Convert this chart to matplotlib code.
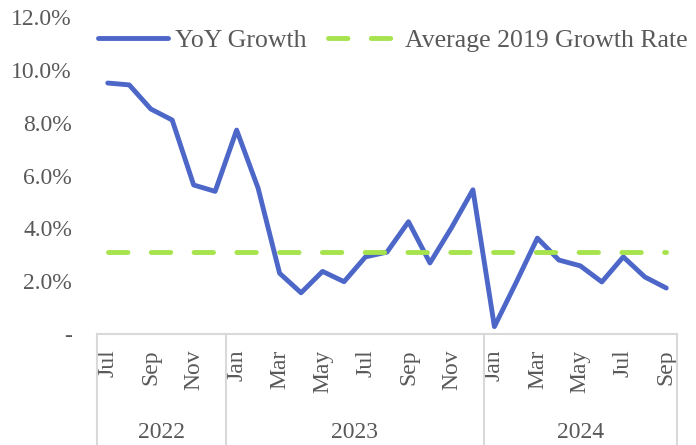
import numpy as np
import matplotlib.pyplot as plt
from matplotlib.ticker import FixedLocator, FuncFormatter

# Dados
meses = ["Jul", "Aug", "Sep", "Oct", "Nov", "Dec",
         "Jan", "Feb", "Mar", "Apr", "May", "Jun", "Jul", "Aug", "Sep", "Oct", "Nov", "Dec",
         "Jan", "Feb", "Mar", "Apr", "May", "Jun", "Jul", "Aug", "Sep"]
anos = ["2022", "2023", "2024"]
meses_por_ano = [6, 12, 9]
yoy = [9.50, 9.43, 8.52, 8.10, 5.64, 5.40,
       7.72, 5.52, 2.30, 1.56, 2.37, 1.98, 2.92, 3.10, 4.25, 2.69, 4.02, 5.46,
       0.28, 1.93, 3.63, 2.80, 2.58, 1.97, 2.92, 2.16, 1.74]
media_2019 = 3.10

cinza = "#595959"
azul = "#4D67C9"
verde = "#A6E34D"

plt.rcParams["font.family"] = ["Liberation Serif", "DejaVu Serif"]
plt.rcParams["font.size"] = 17

fig = plt.figure(figsize=(6.96, 4.45), dpi=100)
ax = fig.add_axes([97 / 696, 1 - 334 / 445, 580 / 696, 317 / 445])

x = np.arange(len(meses))
y = np.array(yoy) / 100

ax.plot(x, y, color=azul, lw=3.5, solid_capstyle="round", solid_joinstyle="round",
        label="YoY Growth")
ax.plot(x, np.full(len(x), media_2019 / 100), color=verde, lw=3.5,
        dashes=(4.0, 4.8), dash_capstyle="round", label="Average 2019 Growth Rate")

ax.set_xlim(-0.5, len(meses) - 0.5)
ax.set_ylim(0, 0.12)

# Eixo y
ax.yaxis.set_major_locator(FixedLocator(np.arange(0, 0.1201, 0.02)))
ax.yaxis.set_major_formatter(FuncFormatter(lambda v, p: "-" if abs(v) < 1e-9 else f"{v*100:.1f}%"))
ax.tick_params(axis="y", length=0, pad=18, colors=cinza)

# Eixo x: meses alternados
ax.set_xticks(x[::2])
ax.set_xticklabels(meses[::2], rotation=90, va="top", ha="center")
ax.tick_params(axis="x", length=0, pad=11, colors=cinza)

for lado in ["top", "right", "left"]:
    ax.spines[lado].set_visible(False)
ax.spines["bottom"].set_color("#D9D9D9")
ax.spines["bottom"].set_linewidth(1.5)

# Separadores e rótulos de ano
limites = np.concatenate([[0], np.cumsum(meses_por_ano)]) - 0.5
for b in limites:
    ax.axvline(b, ymin=-0.37, ymax=0, color="#D9D9D9", lw=1.5, clip_on=False)
for i, ano in enumerate(anos):
    centro = (limites[i] + limites[i + 1]) / 2
    ax.text(centro, -0.31, ano, transform=ax.get_xaxis_transform(),
            ha="center", va="center", color=cinza)

leg = ax.legend(loc="upper center", bbox_to_anchor=(0.51, 1.0), ncol=2, frameon=False,
                fontsize=18.5, handlelength=2.75, columnspacing=0.85,
                handletextpad=0.25, borderaxespad=0.05)
for t in leg.get_texts():
    t.set_color(cinza)

plt.savefig("out.png", dpi=100)
